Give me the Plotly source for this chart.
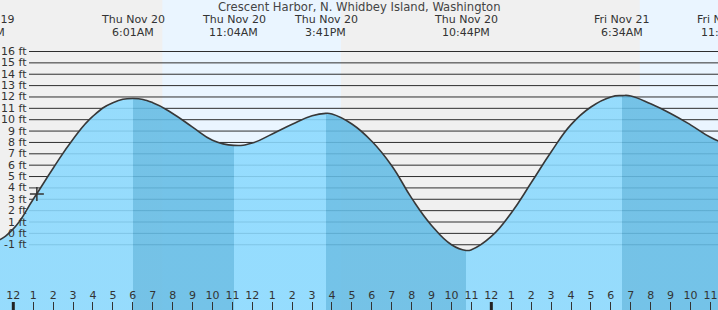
import plotly.graph_objects as go
import pandas as pd

# ---------------- data ----------------
title_text = "Crescent Harbor, N. Whidbey Island, Washington"

tide_times = [
    "2025-11-19 22:00", "2025-11-19 23:00",
    "2025-11-20 00:00", "2025-11-20 01:00", "2025-11-20 02:00", "2025-11-20 03:00",
    "2025-11-20 04:00", "2025-11-20 05:00", "2025-11-20 06:01", "2025-11-20 07:00",
    "2025-11-20 08:00", "2025-11-20 09:00", "2025-11-20 10:00", "2025-11-20 11:04",
    "2025-11-20 12:00", "2025-11-20 13:00", "2025-11-20 14:00", "2025-11-20 15:00",
    "2025-11-20 15:41", "2025-11-20 16:00", "2025-11-20 17:00", "2025-11-20 18:00",
    "2025-11-20 19:00", "2025-11-20 20:00", "2025-11-20 21:00", "2025-11-20 22:00",
    "2025-11-20 22:44", "2025-11-20 23:00",
    "2025-11-21 00:00", "2025-11-21 01:00", "2025-11-21 02:00", "2025-11-21 03:00",
    "2025-11-21 04:00", "2025-11-21 05:00", "2025-11-21 06:00", "2025-11-21 06:34",
    "2025-11-21 07:00", "2025-11-21 08:00", "2025-11-21 09:00", "2025-11-21 10:00",
    "2025-11-21 11:00", "2025-11-21 12:00",
]
tide_heights = [
    -0.92, -0.80,
    0.40, 3.00, 5.73, 8.29,
    10.31, 11.50, 11.86, 11.50,
    10.55, 9.35, 8.20, 7.74,
    7.95, 8.75, 9.60, 10.35,
    10.56, 10.50, 9.62, 8.10,
    5.95, 3.10, 0.70, -1.00,
    -1.50, -1.44,
    -0.27, 1.80, 4.45, 7.16,
    9.57, 11.12, 12.00, 12.12,
    12.09, 11.40, 10.55, 9.55,
    8.45, 7.70,
]

extreme_times = ["2025-11-19 22:23", "2025-11-20 06:01", "2025-11-20 11:04",
                 "2025-11-20 15:41", "2025-11-20 22:44", "2025-11-21 06:34",
                 "2025-11-21 11:44"]
extreme_dates = ["Wed Nov 19", "Thu Nov 20", "Thu Nov 20", "Thu Nov 20",
                 "Thu Nov 20", "Fri Nov 21", "Fri Nov 21"]
extreme_clock = ["10:23PM", "6:01AM", "11:04AM", "3:41PM", "10:44PM", "6:34AM", "11:44AM"]
extreme_kind = ["low", "high", "low", "high", "low", "high", "low"]

sunrise_times = ["2025-11-20 07:29", "2025-11-21 07:27"]
sunset_times = ["2025-11-20 16:27", "2025-11-21 16:26"]
midnights = ["2025-11-20 00:00", "2025-11-21 00:00"]

now_time = "2025-11-20 01:11"
now_height = 3.47

height_ticks = list(range(-1, 17))
height_labels = [f"{v} ft" for v in height_ticks]

# ---------------- style ----------------
W, H = 718, 310
FONT = "DejaVu Sans"
TXT = "#333333"
NIGHT = "#f0f0f0"
DAY = "#eaf5ff"
RISE = "rgba(138,217,254,0.88)"
FALL = "rgba(100,188,229,0.88)"
GRID = "#2e2e2e"
X_RANGE = ["2025-11-19 23:19:56", "2025-11-21 11:22:48"]
Y_RANGE = [-6.74, 20.53]

# ---------------- gradient for rising / falling fill ----------------
ts = pd.to_datetime(tide_times)
t0, t1 = ts.min(), ts.max()
span = (t1 - t0).total_seconds()
ext = pd.to_datetime(extreme_times)
first_color = FALL if extreme_kind[0] == "low" else RISE
for k, t in zip(extreme_kind, ext):
    if t <= t0:
        first_color = FALL if k == "high" else RISE
scale = [[0.0, first_color]]
cur = first_color
for k, t in zip(extreme_kind, ext):
    f = (t - t0).total_seconds() / span
    if 0 < f < 1:
        nxt = FALL if k == "high" else RISE
        scale.append([f, cur])
        scale.append([min(f + 1e-6, 1.0), nxt])
        cur = nxt
scale.append([1.0, cur])

fig = go.Figure()

# baseline for the fill
fig.add_trace(go.Scatter(
    x=[tide_times[0], tide_times[-1]], y=[Y_RANGE[0], Y_RANGE[0]],
    mode="lines", line=dict(width=0), hoverinfo="skip", showlegend=False))

# tide curve with fill
fig.add_trace(go.Scatter(
    x=tide_times, y=tide_heights, mode="lines",
    line=dict(color="#383838", width=1.6, shape="spline", smoothing=1.3),
    fill="tonexty",
    fillgradient=dict(type="horizontal", colorscale=scale),
    hoverinfo="skip", showlegend=False))

# current position marker
fig.add_trace(go.Scatter(
    x=[now_time], y=[now_height], mode="markers",
    marker=dict(symbol="cross-thin", size=10, line=dict(width=1.5, color="#333")),
    hoverinfo="skip", showlegend=False))

shapes = []
# daylight bands
for sr, ss in zip(sunrise_times, sunset_times):
    shapes.append(dict(type="rect", xref="x", yref="paper", x0=sr, x1=ss, y0=0, y1=1,
                       fillcolor=DAY, line=dict(width=0), layer="below"))
# horizontal foot lines
for v in height_ticks:
    shapes.append(dict(type="line", xref="paper", yref="y", x0=29 / W, x1=1, y0=v, y1=v,
                       line=dict(color=GRID, width=1), layer="below"))
# heavier midnight ticks
for m in midnights:
    shapes.append(dict(type="line", xref="x", yref="paper", x0=m, x1=m, y0=0, y1=8 / H,
                       line=dict(color="#222", width=3), layer="above"))

annotations = [dict(text=title_text, xref="paper", yref="paper", x=0.5, y=1 - 7 / H,
                    xanchor="center", yanchor="middle", showarrow=False,
                    font=dict(family=FONT, size=11.6, color="#444"))]
for v, lab in zip(height_ticks, height_labels):
    annotations.append(dict(text=lab, xref="paper", yref="y", x=29 / W, y=v,
                            xanchor="right", yanchor="middle", showarrow=False,
                            font=dict(family=FONT, size=11, color=TXT)))

# header rows at the tide extremes (paper x so that labels past the edges still show)
xr0, xr1 = pd.Timestamp(X_RANGE[0]), pd.Timestamp(X_RANGE[1])
xspan = (xr1 - xr0).total_seconds()
for t, d, c in zip(ext, extreme_dates, extreme_clock):
    px = (t - xr0).total_seconds() / xspan
    for txt, ypix in ((d, 20), (c, 32.3)):
        annotations.append(dict(text=txt, xref="paper", yref="paper", x=px, y=1 - ypix / H,
                                xanchor="center", yanchor="middle", showarrow=False,
                                font=dict(family=FONT, size=11, color=TXT)))

fig.update_layout(
    width=W, height=H,
    margin=dict(l=0, r=0, t=0, b=0),
    paper_bgcolor=NIGHT, plot_bgcolor=NIGHT,
    showlegend=False, hovermode=False,
    shapes=shapes, annotations=annotations,
    xaxis=dict(type="date", range=X_RANGE, tick0="2025-11-20 00:00", dtick=3600000,
               tickformat="%-I", ticks="inside", ticklen=8, tickwidth=1, tickcolor="#333",
               ticklabelposition="inside", tickfont=dict(family=FONT, size=11, color=TXT),
               showgrid=False, zeroline=False, showline=False, fixedrange=True),
    yaxis=dict(range=Y_RANGE, showticklabels=False, showgrid=False, zeroline=False,
               ticks="", fixedrange=True),
)

fig.write_html("out.html", config={"displayModeBar": False})
